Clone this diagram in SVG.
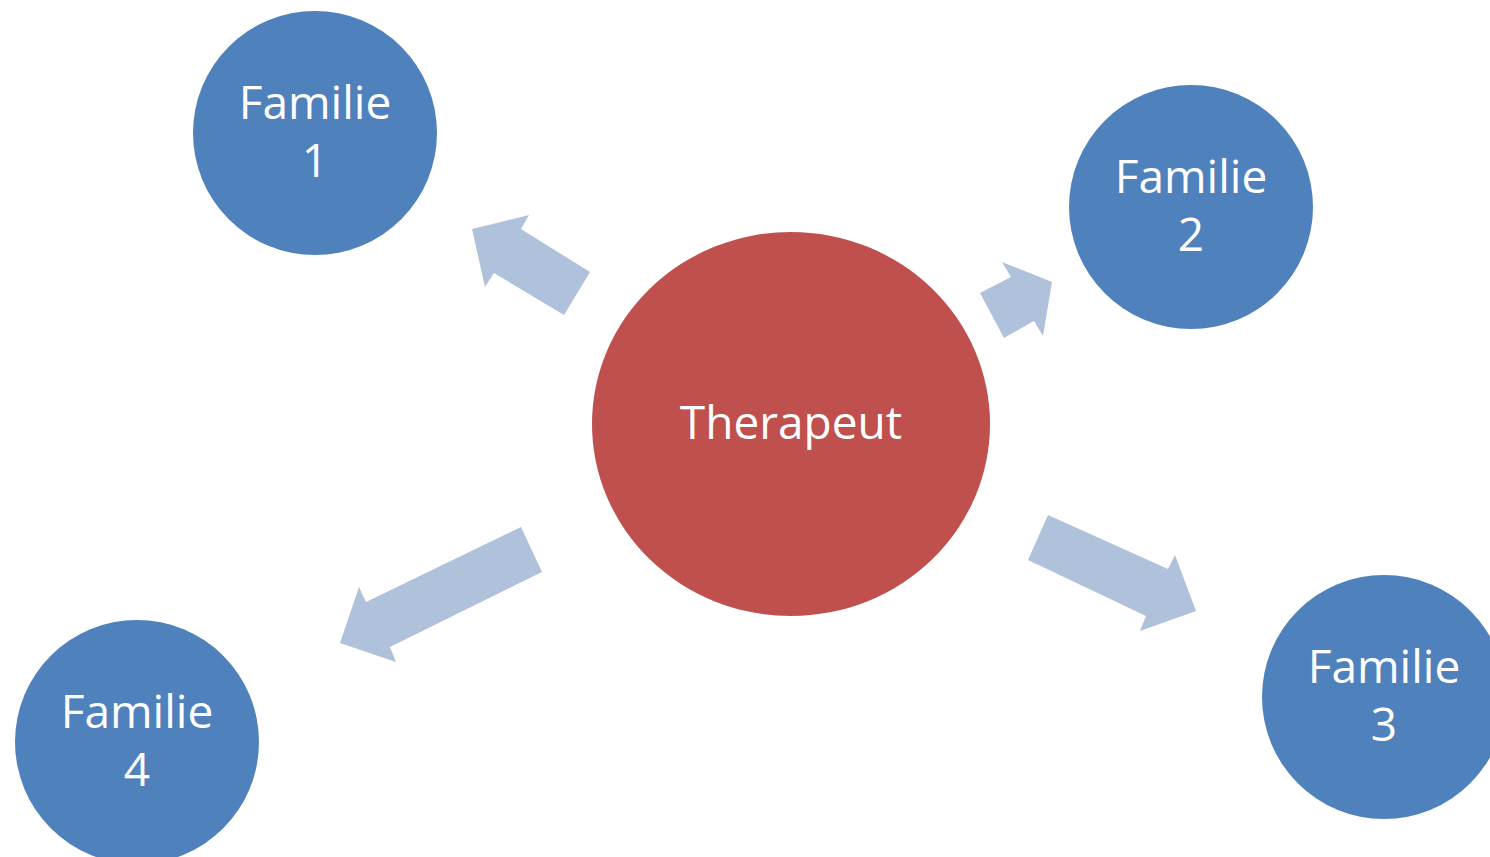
<svg xmlns="http://www.w3.org/2000/svg" width="1490" height="857" viewBox="0 0 1490 857">
<style>
.fam{fill:#4F81BD}
.ther{fill:#C0504D}
.arr{fill:#B0C1DC}
text{font-family:"Open Sans","Noto Sans",sans-serif;font-size:46px;fill:#FFFFFF;text-anchor:middle}
</style>
<rect width="1490" height="857" fill="#FFFFFF"/>
<g id="connectors">
<polygon class="arr" points="472,229 529,215 521,229 590,272 564,315 494,273 485,287"/>
<polygon class="arr" points="980,293 1011,277 1002,262 1052,282 1043,336 1034,321 1004,338"/>
<polygon class="arr" points="1048,515 1168,569 1175,555 1196,611 1140,631 1146,616 1028,560"/>
<polygon class="arr" points="521,527 542,572 390,647 396,662 340,643 359,587 366,602"/>
</g>
<g id="therapeut">
<ellipse class="ther" cx="791" cy="424" rx="199" ry="192"/>
<text x="791" y="439">Therapeut</text>
</g>
<g id="familie1">
<circle class="fam" cx="315" cy="133" r="122"/>
<text x="315" y="119">Familie</text>
<text x="315" y="177">1</text>
</g>
<g id="familie2">
<circle class="fam" cx="1191" cy="207" r="122"/>
<text x="1191" y="193">Familie</text>
<text x="1191" y="251">2</text>
</g>
<g id="familie3">
<circle class="fam" cx="1384" cy="697" r="122"/>
<text x="1384" y="683">Familie</text>
<text x="1384" y="741">3</text>
</g>
<g id="familie4">
<circle class="fam" cx="137" cy="742" r="122"/>
<text x="137" y="728">Familie</text>
<text x="137" y="786">4</text>
</g>
</svg>
